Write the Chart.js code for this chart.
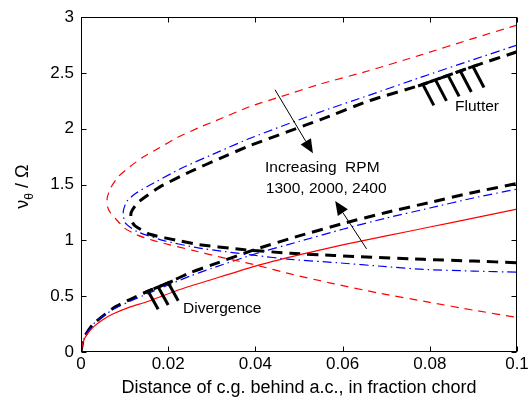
<!DOCTYPE html>
<html>
<head>
<meta charset="utf-8">
<script src="https://cdn.jsdelivr.net/npm/chart.js@4.4.0/dist/chart.umd.min.js"></script>
<style>
  html, body { margin: 0; padding: 0; background: #fff; }
  canvas { display: block; }
</style>
</head>
<body>
<canvas id="chart" width="532" height="402"></canvas>
<script>
const xTicks = [0, 0.02, 0.04, 0.06, 0.08, 0.1];
const yTicks = [0, 0.5, 1, 1.5, 2, 2.5, 3];

// 1300 RPM (red)
const div1300 = [[0,0],[0.0004,0.08],[0.0014,0.16],[0.003,0.23],[0.005,0.29],[0.0073,0.34],[0.011,0.40],[0.0151,0.45],[0.0227,0.56],[0.03,0.65],[0.04,0.77],[0.05,0.87],[0.06,0.96],[0.07,1.04],[0.08,1.12],[0.09,1.20],[0.1,1.28]];
const flut1300 = [[0.1,2.93],[0.09,2.81],[0.0778,2.66],[0.066,2.52],[0.0548,2.40],[0.046,2.29],[0.0388,2.20],[0.032,2.09],[0.027,2.01],[0.022,1.92],[0.018,1.83],[0.014,1.74],[0.0112,1.66],[0.0085,1.57],[0.0068,1.47],[0.006,1.38],[0.0061,1.30],[0.0067,1.25],[0.0078,1.20],[0.01,1.11],[0.0128,1.05],[0.0165,1.00],[0.0204,0.96],[0.0257,0.91],[0.032,0.85],[0.04,0.78],[0.048,0.70],[0.057,0.62],[0.068,0.53],[0.08,0.445],[0.09,0.375],[0.1,0.31]];

// 2000 RPM (blue)
const div2000 = [[0,0],[0.0004,0.09],[0.0015,0.18],[0.0036,0.28],[0.0073,0.38],[0.011,0.45],[0.0151,0.52],[0.02,0.60],[0.025,0.68],[0.03,0.75],[0.04,0.88],[0.05,0.99],[0.06,1.10],[0.07,1.20],[0.08,1.29],[0.09,1.38],[0.1,1.46]];
const flut2000 = [[0.1,2.75],[0.09,2.62],[0.0778,2.46],[0.066,2.30],[0.0548,2.15],[0.0388,1.915],[0.0319,1.80],[0.0227,1.64],[0.0151,1.48],[0.0125,1.42],[0.0105,1.35],[0.0097,1.26],[0.0101,1.16],[0.0128,1.08],[0.0188,1.00],[0.0266,0.935],[0.033,0.90],[0.04,0.865],[0.048,0.83],[0.0587,0.80],[0.07,0.765],[0.0785,0.74],[0.09,0.725],[0.1,0.715]];

// 2400 RPM (black)
const div2400 = [[0,0],[0.0004,0.09],[0.001,0.15],[0.0028,0.25],[0.0073,0.39],[0.0112,0.47],[0.0151,0.54],[0.02,0.62],[0.025,0.71],[0.03,0.78],[0.04,0.92],[0.05,1.04],[0.06,1.15],[0.07,1.25],[0.08,1.34],[0.09,1.43],[0.1,1.51]];
const flut2400 = [[0.1,2.69],[0.09,2.56],[0.0778,2.39],[0.066,2.25],[0.0548,2.08],[0.0388,1.85],[0.0319,1.735],[0.025,1.615],[0.0181,1.48],[0.0151,1.40],[0.0128,1.33],[0.0115,1.25],[0.0115,1.18],[0.0124,1.13],[0.0158,1.055],[0.0227,0.995],[0.0266,0.965],[0.0365,0.92],[0.048,0.885],[0.058,0.865],[0.0785,0.83],[0.09,0.815],[0.1,0.80]];

// stability boundary hatches sit on the 2400 rpm curves
const flutterHatchX = [0.0784, 0.0813, 0.0842, 0.0870, 0.0899];
const divergenceHatchX = [0.0154, 0.0177, 0.0200];

const FONT = 'Liberation Sans, Arial, Helvetica, sans-serif';
Chart.defaults.font.family = FONT;
Chart.defaults.color = '#000';

function pts(arr) { return arr.map(p => ({ x: p[0], y: p[1] })); }

function yOn(curve, x) {
  for (let i = 0; i < curve.length - 1; i++) {
    const a = curve[i], b = curve[i + 1];
    if (a[0] !== b[0] && (x - a[0]) * (x - b[0]) <= 0) {
      return a[1] + (b[1] - a[1]) * (x - a[0]) / (b[0] - a[0]);
    }
  }
  return null;
}

function line(data, color, width, dash) {
  return {
    data: pts(data), showLine: true, borderColor: color, borderWidth: width,
    borderDash: dash, pointRadius: 0, tension: 0.2, fill: false
  };
}

function arrow(c, x1, y1, x2, y2) {
  const ang = Math.atan2(y2 - y1, x2 - x1), L = 14, W = 6;
  const bx = x2 - L * Math.cos(ang), by = y2 - L * Math.sin(ang);
  c.beginPath(); c.moveTo(x1, y1); c.lineTo(bx, by); c.lineWidth = 1; c.stroke();
  c.beginPath();
  c.moveTo(x2, y2);
  c.lineTo(bx + W * Math.sin(ang), by - W * Math.cos(ang));
  c.lineTo(bx - W * Math.sin(ang), by + W * Math.cos(ang));
  c.closePath(); c.fill();
}

const decor = {
  id: 'decor',
  afterDraw(chart) {
    const c = chart.ctx, xs = chart.scales.x, ys = chart.scales.y, a = chart.chartArea;
    const X = v => xs.getPixelForValue(v), Y = v => ys.getPixelForValue(v);
    c.save();
    c.strokeStyle = '#000'; c.fillStyle = '#000';

    // hatches
    function hatch(curve, xsList, dx, dy) {
      xsList.forEach(xv => {
        const px = X(xv), py = Y(yOn(curve, xv));
        const p1 = X(xv - 0.001), p2 = X(xv + 0.001);
        const q1 = Y(yOn(curve, xv - 0.001)), q2 = Y(yOn(curve, xv + 0.001));
        const len = Math.hypot(p2 - p1, q2 - q1), tx = (p2 - p1) / len, ty = (q2 - q1) / len;
        c.lineWidth = 3; c.lineCap = 'butt';
        c.beginPath(); c.moveTo(px - 5 * tx, py - 5 * ty); c.lineTo(px + 5 * tx, py + 5 * ty); c.stroke();
        c.beginPath(); c.moveTo(px, py); c.lineTo(px + dx, py + dy); c.stroke();
      });
    }
    hatch(flut2400, flutterHatchX, 11, 21);
    hatch(div2400, divergenceHatchX, 10, 18);

    // arrows
    arrow(c, X(0.0445), Y(2.35), X(0.0532), Y(1.78));
    arrow(c, X(0.0655), Y(0.924), X(0.0583), Y(1.354));

    // annotation text
    c.font = '15.5px ' + FONT; c.textAlign = 'left'; c.textBaseline = 'middle';
    c.fillText('Flutter', X(0.0858), Y(2.198));
    c.fillText('Divergence', X(0.0234), Y(0.384));
    c.fillText('Increasing  RPM', X(0.0422), Y(1.648));
    c.fillText('1300, 2000, 2400', X(0.0424), Y(1.465));

    // box and inward ticks
    const L = Math.round(a.left) + 0.5, R = Math.round(a.right) - 0.5;
    const T = Math.round(a.top) + 0.5, B = Math.round(a.bottom) - 0.5;
    c.lineWidth = 1; c.lineCap = 'butt';
    c.strokeRect(L, T, R - L, B - T);
    c.beginPath();
    xTicks.forEach(v => {
      const p = Math.round(X(v)) + 0.5;
      c.moveTo(p, B); c.lineTo(p, B - 5);
      c.moveTo(p, T); c.lineTo(p, T + 5);
    });
    yTicks.forEach(v => {
      const p = Math.round(Y(v)) + 0.5;
      c.moveTo(L, p); c.lineTo(L + 5, p);
      c.moveTo(R, p); c.lineTo(R - 5, p);
    });
    c.stroke();

    // axis titles
    c.font = '18px ' + FONT; c.textAlign = 'center'; c.textBaseline = 'alphabetic';
    c.fillText('Distance of c.g. behind a.c., in fraction chord', (a.left + a.right) / 2, 393);

    c.translate(28, (a.top + a.bottom) / 2 + 2);
    c.rotate(-Math.PI / 2);
    c.textAlign = 'left';
    const big = '18px ' + FONT, small = '12px ' + FONT;
    c.font = big; const w1 = c.measureText('ν').width, w3 = c.measureText(' / Ω').width;
    c.font = small; const w2 = c.measureText('θ').width;
    let x0 = -(w1 + w2 + w3) / 2;
    c.font = big; c.fillText('ν', x0, 0);
    c.font = small; c.fillText('θ', x0 + w1, 5);
    c.font = big; c.fillText(' / Ω', x0 + w1 + w2, 0);
    c.restore();
  }
};

new Chart(document.getElementById('chart'), {
  type: 'scatter',
  data: {
    datasets: [
      line(div1300, '#ff0000', 1.2, []),
      line(flut1300, '#ff0000', 1.2, [8, 6]),
      line(div2000, '#0000ff', 1.2, [9, 4, 1.5, 4]),
      line(flut2000, '#0000ff', 1.2, [9, 4, 1.5, 4]),
      line(div2400, '#000000', 3, [11, 7]),
      line(flut2400, '#000000', 3, [11, 7])
    ]
  },
  options: {
    responsive: false,
    animation: false,
    layout: { padding: { left: 0, top: 8, right: 15, bottom: 0 } },
    plugins: { legend: { display: false }, tooltip: { enabled: false } },
    scales: {
      x: {
        type: 'linear', min: 0, max: 0.1,
        afterBuildTicks: s => { s.ticks = xTicks.map(v => ({ value: v })); },
        afterFit: s => { s.height = 50; },
        grid: { display: false, drawTicks: false },
        border: { display: false },
        ticks: { font: { size: 17 }, padding: 2, maxRotation: 0,
                 callback: v => String(parseFloat(v.toFixed(2))) }
      },
      y: {
        type: 'linear', min: 0, max: 3,
        afterBuildTicks: s => { s.ticks = yTicks.map(v => ({ value: v })); },
        afterFit: s => { s.width = 81; },
        grid: { display: false, drawTicks: false },
        border: { display: false },
        ticks: { font: { size: 17 }, padding: 7, callback: v => String(v) }
      }
    }
  },
  plugins: [decor]
});
</script>
</body>
</html>
